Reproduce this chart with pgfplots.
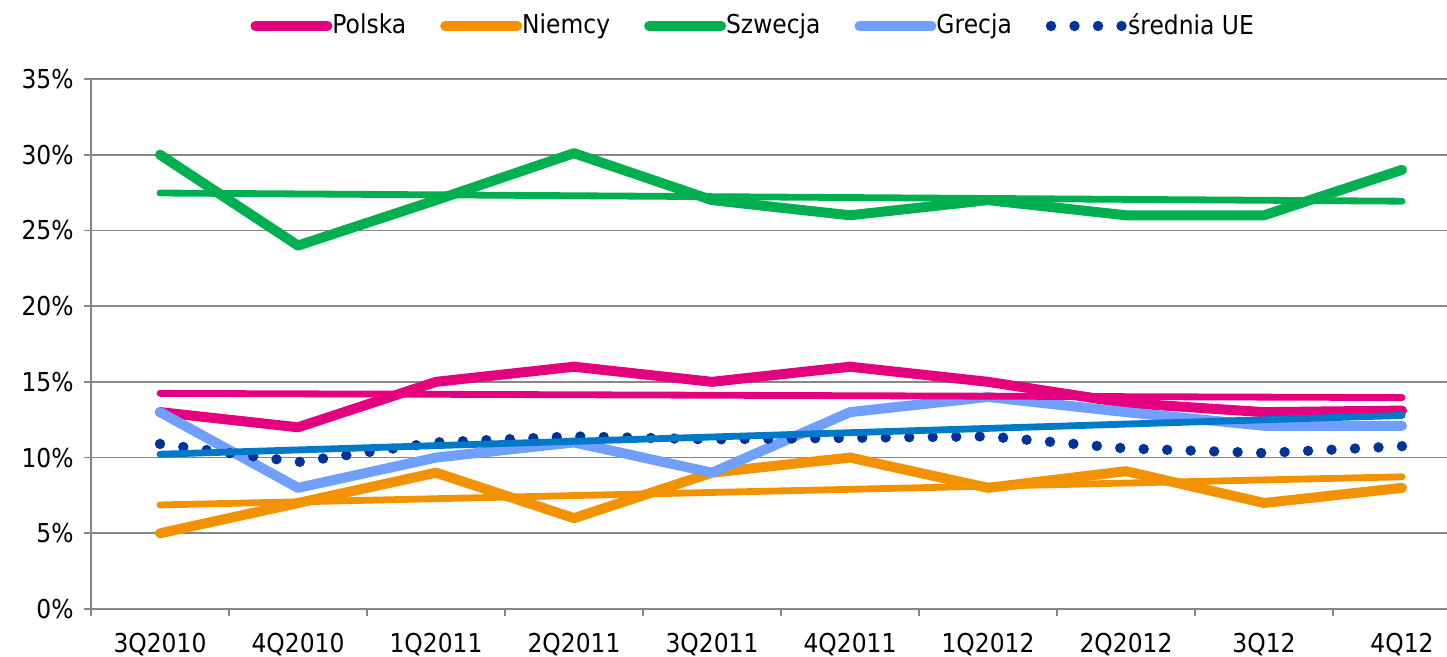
\documentclass[border=0pt]{standalone}
\usepackage{fontspec}
\setmainfont{DejaVu Sans}[FakeStretch=0.9]
\usepackage{pgfplots}
\pgfplotsset{compat=1.18}
\definecolor{polska}{RGB}{228,0,126}
\definecolor{niemcy}{RGB}{243,146,0}
\definecolor{szwecja}{RGB}{0,176,80}
\definecolor{grecja}{RGB}{111,159,255}
\definecolor{ue}{RGB}{0,51,153}
\definecolor{trendblue}{RGB}{0,122,200}
\definecolor{gridgray}{RGB}{134,134,134}

\begin{document}
\fontsize{13}{15}\selectfont
\begin{tikzpicture}
\begin{axis}[
    at={(0,0)}, anchor=south west,
    scale only axis, width=678pt, height=265pt,
    xmin=-0.5, xmax=9.326, ymin=0, ymax=35,
    axis x line*=bottom, axis y line*=left,
    axis line style={gridgray, line width=0.8pt},
    tick align=outside, major tick length=3.5pt,
    tick style={gridgray, line width=0.8pt},
    xtick={-0.5,0.5,1.5,2.5,3.5,4.5,5.5,6.5,7.5,8.5},
    xticklabels={3Q2010,4Q2010,1Q2011,2Q2011,3Q2011,4Q2011,1Q2012,2Q2012,3Q12,4Q12},
    xticklabel style={anchor=base, inner sep=0pt, xshift=34.5pt, yshift=-18.5pt},
    ytick={0,5,...,35},
    yticklabel={\pgfmathprintnumber{\tick}\%},
    yticklabel style={anchor=east, inner sep=0pt, xshift=-5pt},
    /pgf/number format/assume math mode=true,
    ymajorgrids, grid style={gridgray, line width=0.8pt},
    legend columns=-1,
    legend style={at={(0.1173,1.1)}, anchor=west, draw=none, fill=none,
        inner sep=0pt,
        nodes={inner xsep=0pt, inner ysep=1pt},
        /tikz/every even column/.append style={column sep=17pt}},
    legend image code/.code={\draw[#1] (0pt,0pt) -- (36pt,0pt);},
    every axis plot/.append style={line join=round, line cap=round},
]
% data series
\addplot[polska, line width=5pt] coordinates {
    (0,13) (1,12) (2,15) (3,16) (4,15) (5,16) (6,15) (7,13.6) (8,13) (9,13.1)};
\addlegendentry{Polska}
\addplot[niemcy, line width=5pt] coordinates {
    (0,5) (1,7) (2,9) (3,6) (4,9) (5,10) (6,8) (7,9.1) (8,7) (9,8)};
\addlegendentry{Niemcy}
\addplot[szwecja, line width=5pt] coordinates {
    (0,30) (1,24) (2,27) (3,30.1) (4,27) (5,26) (6,27) (7,26) (8,26) (9,29)};
\addlegendentry{Szwecja}
\addplot[grecja, line width=5pt] coordinates {
    (0,13) (1,8) (2,10) (3,11) (4,9) (5,13) (6,14) (7,13) (8,12.1) (9,12.1)};
\addlegendentry{Grecja}
\addplot[ue, line width=5.2pt, dash pattern=on 0pt off 11.75pt] coordinates {
    (0,10.9) (1,9.7) (2,11.0) (3,11.4) (4,11.2) (5,11.3) (6,11.4) (7,10.6) (8,10.3) (9,10.75)};
\addlegendentry{średnia UE}
% trend lines
\addplot[polska, line width=3.4pt, forget plot] coordinates {(0,14.24) (9,13.96)};
\addplot[niemcy, line width=3.4pt, forget plot] coordinates {(0,6.87) (9,8.73)};
\addplot[szwecja, line width=3.4pt, forget plot] coordinates {(0,27.47) (9,26.93)};
\addplot[trendblue, line width=3.4pt, forget plot] coordinates {(0,10.22) (9,12.78)};
\end{axis}
\pgfresetboundingbox
\path (-45.5pt,-24pt) rectangle (678pt,304.5pt);
\end{tikzpicture}
\end{document}
